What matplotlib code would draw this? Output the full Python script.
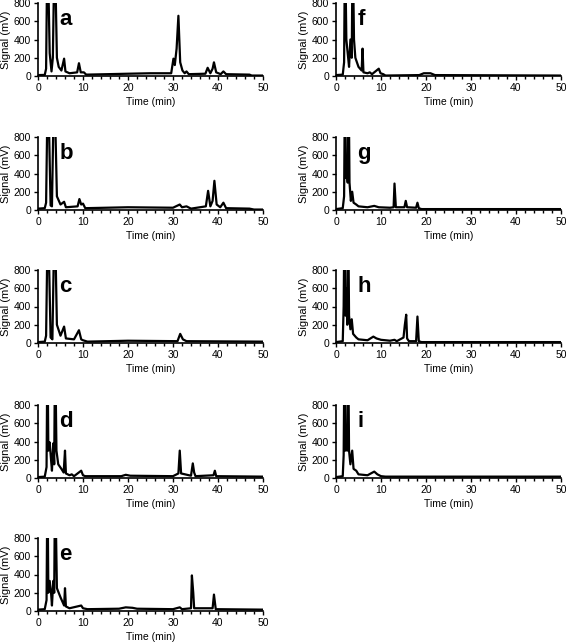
import matplotlib
matplotlib.use('Agg')
import matplotlib.pyplot as plt
from matplotlib.ticker import MultipleLocator

plt.rcParams['font.family'] = ['Liberation Sans', 'DejaVu Sans']

# chromatogram traces: (time in min, signal in mV)
# peaks that run off the top of the axis are given as 1500
a_t = [0, 1.5, 1.8, 2.1, 2.6, 3.0, 3.3, 3.7, 4.2, 4.6, 5.2, 5.8, 6.1, 7, 8.7, 9.1, 9.5, 10.2, 10.7,
       20, 25, 29.6, 30.1, 30.4, 30.8, 31.2, 31.6, 32.1, 32.6, 33.0, 33.5, 37.2, 37.7, 38.3, 38.8,
       39.1, 39.6, 40.6, 41.2, 41.8, 47, 47.5, 50]
a_s = [10, 12, 80, 1500, 250, 50, 200, 1500, 200, 100, 60, 190, 50, 30, 40, 140, 40, 40, 15,
       25, 30, 30, 190, 120, 300, 660, 150, 60, 30, 50, 20, 25, 90, 30, 80,
       150, 40, 20, 50, 20, 15, 5, 5]

b_t = [0, 1.5, 1.8, 2.2, 2.8, 3.1, 3.6, 4.2, 5.0, 5.8, 6.2, 8.8, 9.2, 9.6, 10.0, 10.5,
       20, 30, 31.5, 32.0, 33.0, 34.0, 37.3, 37.8, 38.3, 38.8, 39.2, 39.7, 40.5, 41.2, 41.8,
       47, 48, 50]
b_s = [15, 20, 80, 1500, 50, 40, 1500, 150, 60, 90, 30, 40, 120, 60, 70, 20,
       30, 25, 60, 30, 40, 15, 40, 210, 40, 100, 320, 60, 30, 80, 20,
       15, 5, 5]

c_t = [0, 1.5, 1.8, 2.2, 2.8, 3.2, 3.7, 4.2, 5.0, 5.8, 6.2, 8.0, 9.1, 9.6, 10.0, 11.0,
       20, 31.0, 31.6, 32.2, 33.0, 50]
c_s = [10, 15, 80, 1500, 60, 40, 1500, 200, 80, 180, 50, 40, 140, 40, 30, 15,
       25, 20, 100, 40, 20, 15]

d_t = [0, 1.5, 1.9, 2.1, 2.3, 2.6, 2.9, 3.1, 3.4, 3.6, 3.8, 4.1, 4.5, 5.2, 5.7, 6.0, 6.2,
       7.0, 7.5, 8.0, 9.6, 10.0, 10.5, 18.5, 19.5, 20.5, 30, 31.2, 31.5, 31.8, 34.0, 34.4,
       34.7, 35.0, 39.0, 39.3, 39.6, 50]
d_s = [10, 15, 120, 1500, 300, 390, 200, 80, 380, 150, 1500, 300, 150, 100, 60, 300, 50,
       30, 40, 20, 80, 30, 20, 20, 35, 25, 20, 50, 300, 50, 25, 160,
       60, 20, 30, 80, 20, 15]

e_t = [0, 1.5, 1.9, 2.1, 2.3, 2.6, 2.9, 3.1, 3.4, 3.6, 3.8, 4.2, 5.0, 5.8, 6.0, 6.2, 7.0,
       9.6, 10.0, 11.0, 18.0, 19.5, 21.0, 22.0, 30, 31.5, 32.0, 34.0, 34.2, 34.5, 34.7,
       38.8, 39.1, 39.5, 50]
e_s = [15, 20, 120, 1500, 200, 330, 200, 60, 330, 200, 1500, 250, 150, 60, 250, 50, 30,
       60, 30, 20, 25, 40, 35, 25, 20, 40, 20, 30, 390, 200, 30,
       30, 180, 20, 15]

f_t = [0, 1.5, 1.8, 2.0, 2.3, 2.6, 2.9, 3.2, 3.5, 3.7, 4.0, 4.3, 5.0, 5.7, 5.9, 6.1, 7.0,
       7.5, 8.0, 9.5, 9.9, 10.5, 11.0, 18.5, 19.5, 21.0, 22.0, 50]
f_s = [10, 15, 150, 1500, 400, 250, 100, 400, 200, 1500, 400, 200, 100, 60, 300, 40, 30,
       40, 20, 80, 30, 20, 5, 10, 30, 30, 10, 5]

g_t = [0, 1.5, 1.8, 2.0, 2.2, 2.4, 2.6, 2.8, 3.0, 3.3, 3.6, 3.9, 4.5, 5.0, 7.0, 8.5, 9.5,
       12.0, 12.8, 13.0, 13.3, 15.2, 15.5, 15.8, 17.8, 18.1, 18.4, 19.0, 50]
g_s = [10, 20, 150, 1500, 350, 500, 300, 1500, 300, 100, 200, 80, 60, 40, 30, 45, 30,
       25, 30, 290, 30, 30, 100, 30, 25, 80, 20, 10, 10]

h_t = [0, 1.5, 1.7, 1.9, 2.1, 2.3, 2.5, 2.7, 2.9, 3.2, 3.5, 3.8, 4.5, 5.0, 7.0, 8.3, 9.0,
       10.0, 12.0, 13.0, 13.5, 15.0, 15.3, 15.6, 15.8, 16.2, 17.8, 18.1, 18.4, 19.0, 50]
h_s = [10, 20, 400, 1500, 300, 600, 200, 1500, 300, 150, 260, 100, 60, 40, 30, 70, 50,
       35, 25, 35, 20, 60, 200, 310, 50, 20, 20, 290, 20, 10, 10]

i_t = [0, 1.5, 1.7, 1.9, 2.1, 2.3, 2.5, 2.7, 2.9, 3.2, 3.6, 3.9, 4.5, 5.0, 7.0, 8.5, 9.2,
       10.0, 11.0, 50]
i_s = [10, 20, 250, 1500, 300, 500, 300, 1500, 300, 150, 300, 100, 80, 40, 30, 70, 40,
       20, 15, 15]

panels = [('a', a_t, a_s), ('b', b_t, b_s), ('c', c_t, c_s), ('d', d_t, d_s), ('e', e_t, e_s),
          ('f', f_t, f_s), ('g', g_t, g_s), ('h', h_t, h_s), ('i', i_t, i_s)]

fig = plt.figure(figsize=(5.66, 6.43), dpi=100)

row_tops = [3, 137, 270, 405, 538]
col_lefts = [38, 336]
w, h = 225, 73

for n, (letter, t, s) in enumerate(panels):
    col, row = divmod(n, 5)
    ax = fig.add_axes([col_lefts[col] / 566, 1 - (row_tops[row] + h) / 643, w / 566, h / 643])
    ax.plot(t, s, color='black', lw=1.6)
    ax.set_xlim(0, 50)
    ax.set_ylim(0, 800)
    ax.xaxis.set_major_locator(MultipleLocator(10))
    ax.xaxis.set_minor_locator(MultipleLocator(2))
    ax.yaxis.set_major_locator(MultipleLocator(200))
    ax.spines['top'].set_visible(False)
    ax.spines['right'].set_visible(False)
    ax.spines['left'].set_linewidth(1.2)
    ax.spines['bottom'].set_linewidth(1.2)
    ax.tick_params(axis='both', which='major', labelsize=7.5, length=3, width=1, pad=2)
    ax.tick_params(axis='x', which='minor', length=2, width=1)
    ax.set_xlabel('Time (min)', fontsize=7.5, labelpad=3)
    ax.set_ylabel('Signal (mV)', fontsize=8, labelpad=2)
    ax.text(4.7, 620, letter, fontsize=16, fontweight='bold', ha='left', va='center')

fig.savefig('out.png', dpi=100)
